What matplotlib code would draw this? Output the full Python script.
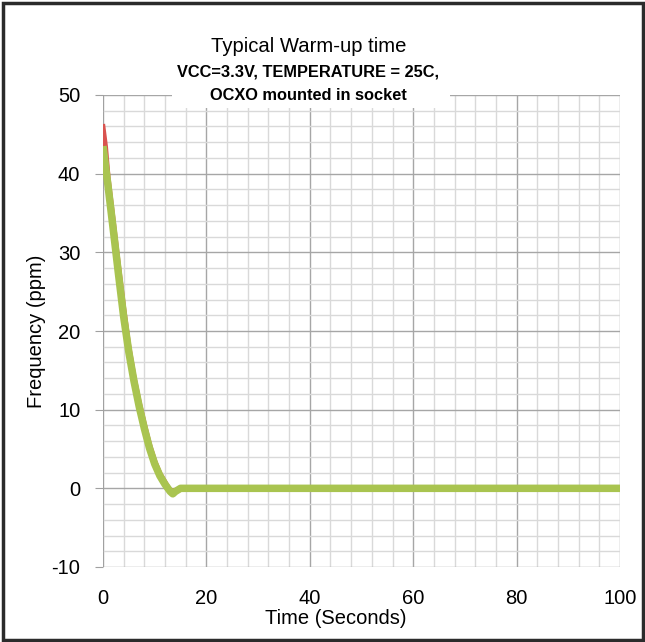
import matplotlib
matplotlib.use("Agg")
import matplotlib.pyplot as plt
from matplotlib.patches import Rectangle
from matplotlib.ticker import MultipleLocator

plt.rcParams['font.family'] = ['Liberation Sans', 'DejaVu Sans']
plt.rcParams['axes.unicode_minus'] = False

# warm-up curves
time_s   = [0, 1, 2, 3, 4, 5, 6, 7, 8, 9, 10, 11, 12, 13, 13.5, 14, 15, 20, 40, 60, 80, 100]
freq_ppm = [43.5, 38.3, 32.8, 27.2, 21.8, 17.3, 13.6, 10.4, 7.6, 5.1, 3.1, 1.6, 0.5, -0.4, -0.7, -0.4, 0,
            0, 0, 0, 0, 0]
time_r   = [0, 0.5, 1, 2, 3, 4, 5, 6, 7, 8, 9, 10, 11, 12, 13, 14, 15, 100]
freq_r   = [46, 43.4, 39.5, 34.0, 28.4, 23.0, 18.1, 14.2, 11.0, 8.2, 5.6, 3.5, 1.9, 0.8, -0.3, -0.3, 0, 0]

xticks = [0, 20, 40, 60, 80, 100]
yticks = [-10, 0, 10, 20, 30, 40, 50]

W, H = 645, 642
fig = plt.figure(figsize=(W / 100, H / 100), dpi=100)
left, right, top, bottom = 103, 620, 95, 567
ax = fig.add_axes([left / W, 1 - bottom / H, (right - left) / W, (bottom - top) / H])

ax.set_xlim(0, 100)
ax.set_ylim(-10, 50)
ax.set_xticks(xticks)
ax.set_yticks(yticks)
ax.xaxis.set_minor_locator(MultipleLocator(4))
ax.yaxis.set_minor_locator(MultipleLocator(2))
ax.grid(which='minor', color='#d9d9d9', linewidth=1.0)
ax.grid(which='major', color='#a6a6a6', linewidth=1.0)
ax.set_axisbelow(True)
for s in ax.spines.values():
    s.set_visible(False)
ax.axvline(0, color='#a0a0a0', linewidth=1.2, zorder=1)

ax.tick_params(axis='y', which='major', length=5.8, color='#a0a0a0', pad=10.5, labelsize=14.5)
ax.tick_params(axis='x', which='major', length=0, pad=15.5, labelsize=14.5)
ax.tick_params(which='minor', length=0)

ax.plot(time_r, freq_r, color='#d9534f', linewidth=3.5, zorder=3)
ax.plot(time_s, freq_ppm, color='#a9c450', linewidth=5.4, zorder=4, solid_capstyle='butt')

# white box behind the title, as in the original chart
fig.patches.append(Rectangle((172 / W, 1 - 108 / H), (450 - 172) / W, 20 / H,
                             transform=fig.transFigure, facecolor='white',
                             edgecolor='none', zorder=2))

cx = 308.5 / W
fig.text(cx, 1 - 46 / H, "Typical Warm-up time", ha='center', va='center', fontsize=14.6, zorder=3)
fig.text(cx, 1 - 72 / H, "VCC=3.3V, TEMPERATURE = 25C,", ha='center', va='center',
         fontsize=11.8, fontweight='bold', zorder=3)
fig.text(cx, 1 - 96 / H, "OCXO mounted in socket", ha='center', va='center',
         fontsize=11.8, fontweight='bold', zorder=3)

fig.text(336 / W, 1 - 619 / H, "Time (Seconds)", ha='center', va='center', fontsize=14.5)
fig.text(37 / W, 1 - 331 / H, "Frequency (ppm)", ha='center', va='center', rotation=90, fontsize=14.5)

# outer frame
fig.patches.append(Rectangle((2.5 / W, 2.5 / H), (W - 5) / W, (H - 5) / H,
                             transform=fig.transFigure, facecolor='none',
                             edgecolor='#2b2b2b', linewidth=2.5, zorder=5))

fig.savefig("out.png", dpi=100)
